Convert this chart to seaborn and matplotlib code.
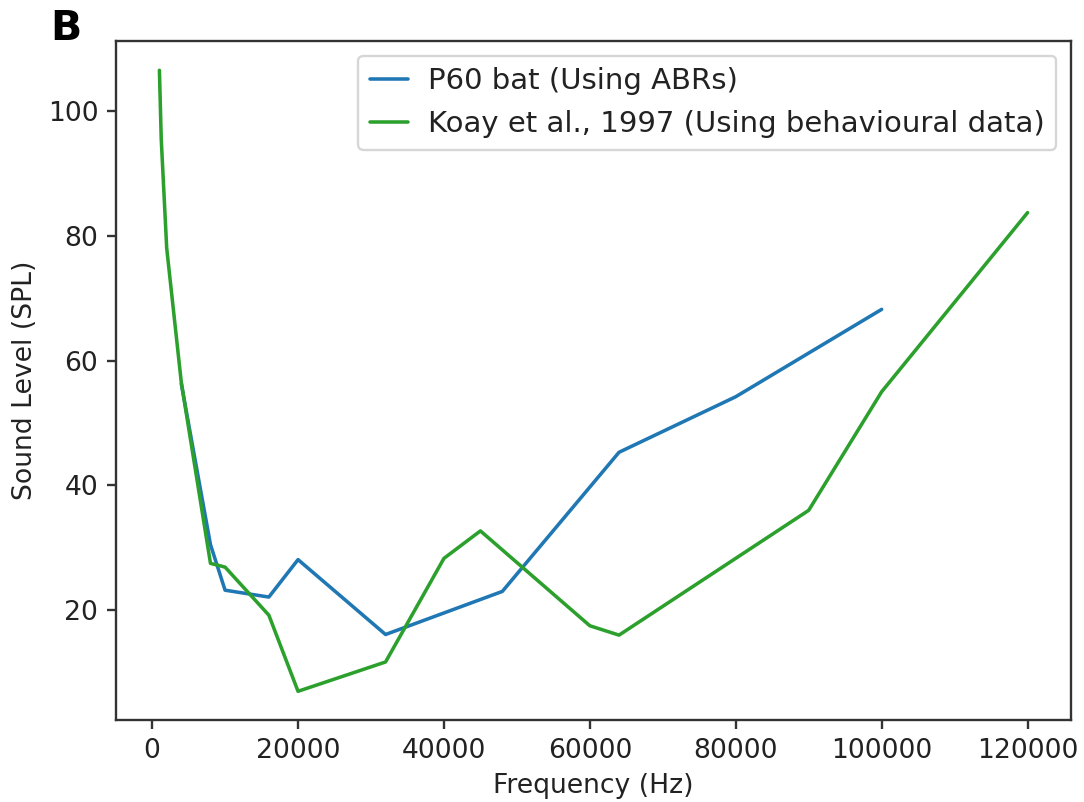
import matplotlib
matplotlib.use("Agg")
import matplotlib.pyplot as plt
import seaborn as sns
import pandas as pd

# Data
abr_freq = [4000, 8000, 10000, 16000, 20000, 32000, 48000, 64000, 80000, 100000]
abr_level = [56.3, 30.5, 23.2, 22.1, 28.1, 16.1, 23.0, 45.3, 54.2, 68.2]

koay_freq = [1000, 1250, 2000, 4000, 8000, 10000, 16000, 20000, 32000, 40000,
             45000, 60000, 64000, 90000, 100000, 120000]
koay_level = [106.5, 95.5, 78.0, 56.5, 27.5, 26.9, 19.2, 7.0, 11.7, 28.3,
              32.7, 17.5, 16.0, 36.0, 55.0, 83.7]

abr_label = "P60 bat (Using ABRs)"
koay_label = "Koay et al., 1997 (Using behavioural data)"
x_label = "Frequency (Hz)"
y_label = "Sound Level (SPL)"
panel_label = "B"

sns.set_style("ticks")
plt.rcParams["font.family"] = ["DejaVu Sans"]

DPI = 169.375
fig = plt.figure(figsize=(1084 / DPI, 802 / DPI), dpi=DPI)
ax = fig.add_axes([116 / 1084, 1 - 720 / 802, (1071 - 116) / 1084, (720 - 41) / 802])

abr_df = pd.DataFrame({"freq": abr_freq, "level": abr_level})
koay_df = pd.DataFrame({"freq": koay_freq, "level": koay_level})

sns.lineplot(data=abr_df, x="freq", y="level", ax=ax, color="#1f77b4",
             linewidth=1.5, label=abr_label, sort=False)
sns.lineplot(data=koay_df, x="freq", y="level", ax=ax, color="#2ca02c",
             linewidth=1.5, label=koay_label, sort=False)

ax.set_xticks([0, 20000, 40000, 60000, 80000, 100000, 120000])
ax.set_xticklabels(["0", "20000", "40000", "60000", "80000", "100000", "120000"])
ax.set_yticks([20, 40, 60, 80, 100])

ax.set_xlim(-4950, 125950)
ax.set_ylim(2.4, 111.2)

fs = 11.3
ax.tick_params(axis="both", labelsize=fs, direction="out", length=4, width=1,
               color="#333333", labelcolor="#222222")
ax.set_xlabel(x_label, fontsize=fs, color="#222222")
ax.set_ylabel(y_label, fontsize=fs, color="#222222")
for s in ax.spines.values():
    s.set_visible(True)
    s.set_linewidth(1.0)
    s.set_color("#333333")

leg = ax.legend(loc="upper right", fontsize=12.4, frameon=True,
                handlelength=1.3, handletextpad=0.7, borderaxespad=0.5)
leg.get_frame().set_edgecolor("#cccccc")
for t in leg.get_texts():
    t.set_color("#222222")

fig.text(50 / 1084, 1 - 40 / 802, panel_label, fontsize=17.5, fontweight="bold",
         color="black", ha="left", va="baseline")

fig.savefig("out.png", dpi=DPI)
